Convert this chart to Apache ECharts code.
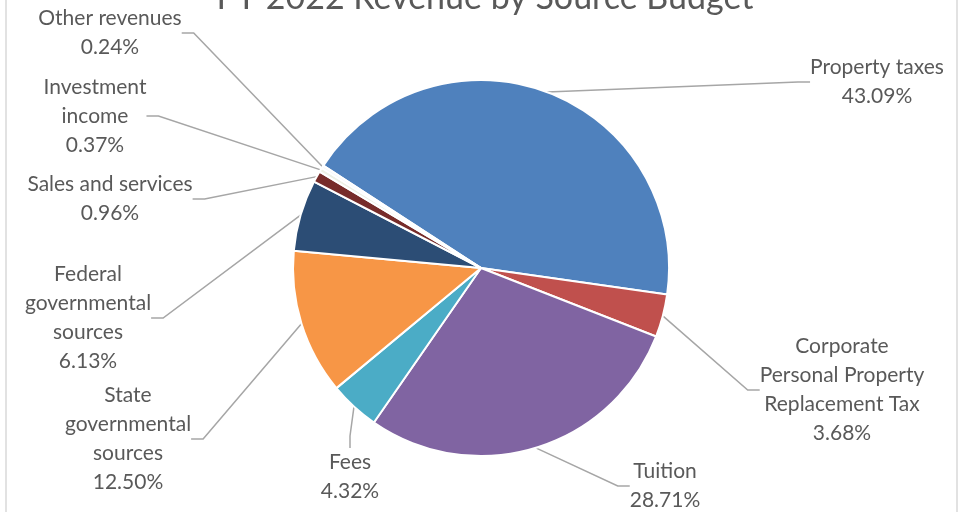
<!DOCTYPE html>
<html>
<head>
<meta charset="utf-8">
<script src="https://cdn.jsdelivr.net/npm/echarts@6/dist/echarts.min.js"></script>
<style>
  html, body { margin: 0; padding: 0; background: #fff; }
  #chart { width: 971px; height: 512px; }
</style>
</head>
<body>
<div id="chart"></div>
<script>
// slices, clockwise from the upper left
var sources = ['Property taxes', 'Corporate Personal Property Replacement Tax', 'Tuition', 'Fees',
  'State governmental sources', 'Federal governmental sources', 'Sales and services',
  'Investment income', 'Other revenues'];
var labelText = ['Property taxes', 'Corporate\nPersonal Property\nReplacement Tax', 'Tuition', 'Fees',
  'State\ngovernmental\nsources', 'Federal\ngovernmental\nsources', 'Sales and services',
  'Investment\nincome', 'Other revenues'];
var shares = [43.09, 3.68, 28.71, 4.32, 12.50, 6.13, 0.96, 0.37, 0.24];
var colors = ['#4F81BD', '#C0504D', '#8064A2', '#4BACC6', '#F79646', '#2C4D75', '#772C2A', '#eef1e6', '#f4f6f9'];

// where each label block sits (center), in px
var labelPos = [[877, 82], [842, 390], [665, 486], [350, 477], [128, 439], [88, 318], [110, 199], [95, 116], [110, 33]];

var myChart = echarts.init(document.getElementById('chart'));

var option = {
  animation: false,
  backgroundColor: '#fff',
  title: {
    text: 'FY 2022 Revenue by Source Budget',
    left: 480,
    textAlign: 'center',
    top: -24,
    textStyle: { fontFamily: 'Lato', fontSize: 34, fontWeight: 'normal', color: '#595959' }
  },
  graphic: [{
    type: 'rect',
    shape: { x: 6, y: -10, width: 951, height: 540 },
    style: { fill: 'none', stroke: '#d9d9d9', lineWidth: 1.5 },
    silent: true
  }],
  series: [{
    type: 'pie',
    center: [481, 268],
    radius: [0, 188],
    startAngle: 147,
    clockwise: true,
    color: colors,
    itemStyle: { borderColor: '#fff', borderWidth: 2 },
    label: {
      show: true,
      fontFamily: 'Lato',
      fontSize: 21,
      lineHeight: 29,
      color: '#595959',
      align: 'center',
      formatter: function (p) {
        return labelText[p.dataIndex] + '\n' + p.value.toFixed(2) + '%';
      }
    },
    labelLine: {
      show: true,
      length: 20,
      length2: 12,
      lineStyle: { color: '#a6a6a6', width: 1.5 }
    },
    labelLayout: function (params) {
      var pos = labelPos[params.dataIndex];
      return { x: pos[0], y: pos[1], align: 'center', verticalAlign: 'middle' };
    },
    data: sources.map(function (s, i) { return { name: s, value: shares[i] }; })
  }]
};
myChart.setOption(option);

window.addEventListener('resize', function () {
  myChart.resize();
});
</script>
</body>
</html>
